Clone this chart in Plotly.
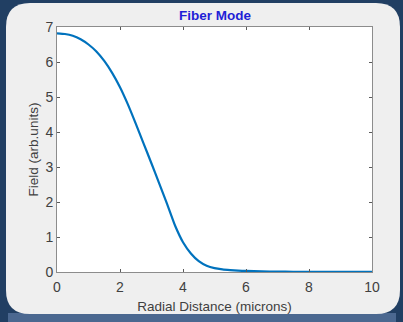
import plotly.graph_objects as go

# Radial field profile of the guided fiber mode
radius_um = [0, 0.25, 0.5, 0.75, 1.0, 1.25, 1.5, 1.75, 2.0, 2.25, 2.5, 2.75,
             3.0, 3.25, 3.5, 3.75, 4.0, 4.25, 4.5, 4.75, 5.0, 5.25, 5.5,
             5.75, 6.0, 6.5, 7.0, 7.5, 8.0, 9.0, 10.0]
field = [6.82, 6.80, 6.75, 6.65, 6.50, 6.30, 6.03, 5.69, 5.28, 4.79, 4.24,
         3.67, 3.10, 2.52, 1.93, 1.32, 0.85, 0.53, 0.31, 0.18, 0.11, 0.075,
         0.055, 0.04, 0.03, 0.018, 0.011, 0.007, 0.004, 0.002, 0.001]
x_ticks = [0, 2, 4, 6, 8, 10]
y_ticks = [0, 1, 2, 3, 4, 5, 6, 7]

W, H = 403, 322
L, R, T, B = 57, 372, 27, 272  # plot area in pixels

FONT = "Liberation Sans, Arial"
TEXT_GREY = "#404040"


def px(xp):
    return (xp - L) / (R - L)


def py(yp):
    return (B - yp) / (B - T)


def rounded_rect(x0, y0, x1, y1, r):
    pts = [
        f"M {px(x0 + r)},{py(y0)}",
        f"L {px(x1 - r)},{py(y0)}",
        f"Q {px(x1)},{py(y0)} {px(x1)},{py(y0 + r)}",
        f"L {px(x1)},{py(y1 - r)}",
        f"Q {px(x1)},{py(y1)} {px(x1 - r)},{py(y1)}",
        f"L {px(x0 + r)},{py(y1)}",
        f"Q {px(x0)},{py(y1)} {px(x0)},{py(y1 - r)}",
        f"L {px(x0)},{py(y0 + r)}",
        f"Q {px(x0)},{py(y0)} {px(x0 + r)},{py(y0)}",
        "Z",
    ]
    return " ".join(pts)


fig = go.Figure()
fig.add_trace(go.Scatter(
    x=radius_um, y=field, mode="lines",
    line=dict(color="#0072BD", width=2.2, shape="spline", smoothing=0.4),
    hoverinfo="skip", showlegend=False,
))

axis_common = dict(
    showgrid=False, zeroline=False, showline=True, mirror="ticks",
    linecolor="#8c8c8c", linewidth=1, ticks="inside", ticklen=3,
    tickcolor="#5a5a5a", tickwidth=1, automargin=False,
    tickfont=dict(family=FONT, size=14, color=TEXT_GREY),
)

fig.update_layout(
    width=W, height=H,
    margin=dict(l=L, r=W - R, t=T, b=H - B),
    paper_bgcolor="#213f63",
    plot_bgcolor="#ffffff",
    xaxis=dict(range=[0, 10], tickvals=x_ticks, ticklabelstandoff=2,
               **axis_common,
               title=dict(text="Radial Distance (microns)", standoff=7,
                          font=dict(family=FONT, size=13.5, color=TEXT_GREY))),
    yaxis=dict(range=[0, 7], tickvals=y_ticks, **axis_common,
               title=dict(text="Field (arb.units)", standoff=3,
                          font=dict(family=FONT, size=13.5, color=TEXT_GREY))),
    shapes=[
        # reflection band under the panel
        dict(type="rect", xref="paper", yref="paper", layer="below",
             x0=px(8), x1=px(396), y0=py(322), y1=py(313),
             fillcolor="#4b6890", line=dict(width=0)),
        # light rounded panel behind the axes
        dict(type="path", xref="paper", yref="paper", layer="below",
             path=rounded_rect(6, 3, 400, 314, 24),
             fillcolor="#efefef", line=dict(width=0)),
        # white axes area on top of the panel
        dict(type="rect", xref="paper", yref="paper", layer="below",
             x0=0, x1=1, y0=0, y1=1,
             fillcolor="#ffffff", line=dict(width=0)),
    ],
    annotations=[
        dict(text="<b>Fiber Mode</b>", xref="paper", yref="paper",
             x=0.5, y=py(15), xanchor="center", yanchor="middle",
             showarrow=False,
             font=dict(family=FONT, size=13.5, color="#1f1fd6")),
    ],
)

fig.write_html("out.html")
